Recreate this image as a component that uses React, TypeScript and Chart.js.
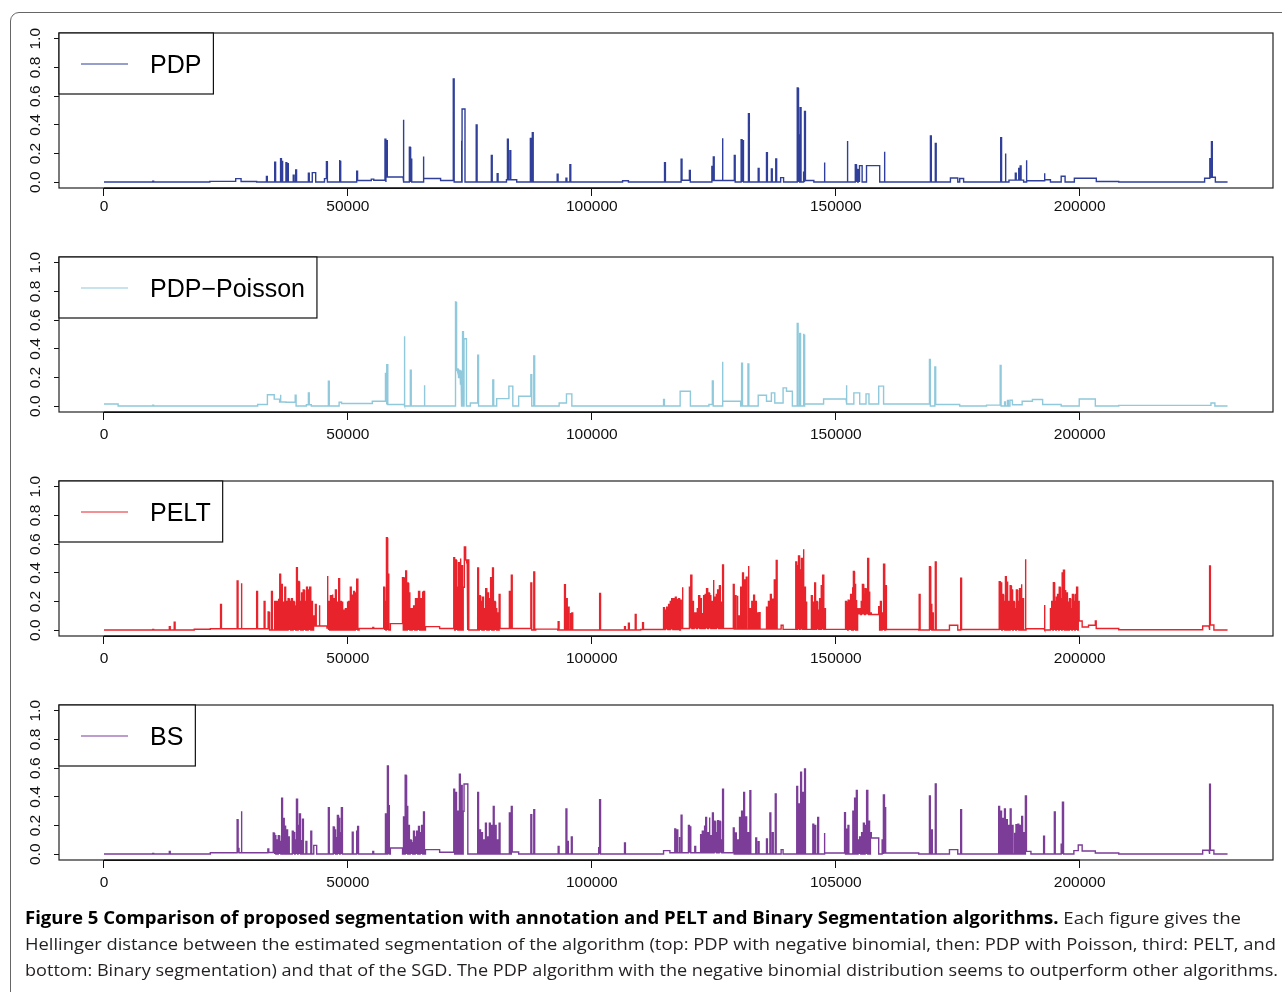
import React, { useEffect, useLayoutEffect, useRef } from "react";
import { Chart, registerables } from "chart.js";

Chart.register(...registerables);

type Level = [number, number, number];
type Spike = [number, number];
type Cluster = [number, number, number[]];

// ---------- axes ----------
const SEQ_END = 230300;
const X_MIN = -9216;
const X_MAX = 239616;
const Y_MIN = -0.04;
const Y_MAX = 1.04;
const X_TICKS = [0, 50000, 100000, 150000, 200000];
const X_LABELS = ["0", "50000", "100000", "150000", "200000"];
const X_LABELS_BS = ["0", "50000", "100000", "105000", "200000"];
const Y_TICKS = [0, 0.2, 0.4, 0.6, 0.8, 1.0];
const Y_LABELS = ["0.0", "0.2", "0.4", "0.6", "0.8", "1.0"];
const BASE_LEVEL = 0.002;
const SPIKE_WIDTH = 180;

// ---------- PDP (negative binomial) ----------
const PDP_LEVELS: Level[] = [
  [21700, 27000, 0.006], [27000, 28100, 0.025], [28100, 31300, 0.005],
  [42700, 43400, 0.067], [45200, 45800, 0.025], [51800, 54800, 0.012],
  [54800, 55300, 0.022], [55300, 57600, 0.014], [57800, 61300, 0.037],
  [65400, 69000, 0.026], [69000, 71600, 0.012], [73400, 74000, 0.51],
  [82500, 84600, 0.018], [106300, 107500, 0.01], [118300, 120000, 0.014],
  [124600, 129200, 0.012], [138700, 139300, 0.032], [143600, 145500, 0.012],
  [154900, 155400, 0.116], [156300, 159000, 0.116], [173500, 175000, 0.03],
  [175400, 176200, 0.026], [185500, 188500, 0.015], [189000, 192700, 0.01],
  [192700, 194000, 0.018], [196200, 197000, 0.042], [198900, 203400, 0.028],
  [203400, 208000, 0.005], [225600, 226600, 0.028], [226600, 227800, 0.035],
];
const PDP_SPIKES: Spike[] = [
  [10000, 0.008], [33300, 0.04], [35000, 0.14], [36200, 0.165], [36500, 0.15],
  [37300, 0.137], [37600, 0.13], [38800, 0.05], [39300, 0.085], [41900, 0.063],
  [45600, 0.144], [48200, 0.155], [48400, 0.15], [51800, 0.077], [57600, 0.3],
  [57900, 0.29], [61300, 0.436], [62600, 0.245], [62900, 0.16], [65400, 0.18],
  [71600, 0.72], [73200, 0.29], [76300, 0.4], [79400, 0.186], [80600, 0.06],
  [82700, 0.3], [83200, 0.22], [87400, 0.306], [87800, 0.346], [92900, 0.056],
  [94700, 0.028], [95500, 0.123], [114900, 0.137], [118300, 0.16], [120000, 0.083],
  [124600, 0.11], [124900, 0.176], [126700, 0.306], [129200, 0.186], [130600, 0.297],
  [130900, 0.29], [132100, 0.478], [134100, 0.097], [135800, 0.206], [136800, 0.093],
  [137700, 0.162], [142100, 0.657], [142400, 0.33], [142700, 0.52], [143400, 0.07],
  [143600, 0.494], [147600, 0.137], [152300, 0.288], [154000, 0.123], [154300, 0.09],
  [154600, 0.087], [156500, 0.06], [156800, 0.05], [159900, 0.213], [169400, 0.322],
  [170400, 0.27], [183800, 0.31], [184700, 0.2], [186800, 0.063], [187500, 0.097],
  [187800, 0.114], [189000, 0.153], [192700, 0.063], [226700, 0.165], [227000, 0.283],
];
const PDP_CLUSTERS: Cluster[] = [];

// ---------- PDP with Poisson ----------
const POIS_LEVELS: Level[] = [
  [0, 2900, 0.016], [31500, 33500, 0.012], [33500, 34900, 0.08], [34900, 36000, 0.05],
  [36000, 37300, 0.03], [37300, 39200, 0.028], [41500, 42500, 0.01], [48200, 48700, 0.028],
  [48700, 55000, 0.019], [55000, 57700, 0.035], [57700, 61500, 0.012], [72000, 73300, 0.05],
  [73800, 74300, 0.47], [75100, 76600, 0.023], [80500, 83000, 0.053], [83000, 83800, 0.14],
  [85000, 87500, 0.07], [93300, 94800, 0.023], [94800, 95900, 0.086], [118100, 120200, 0.105],
  [124000, 124700, 0.012], [126700, 130500, 0.035], [134100, 135800, 0.077], [135800, 136800, 0.035],
  [136800, 137500, 0.093], [137500, 139200, 0.023], [139200, 139900, 0.128], [139900, 141100, 0.105],
  [143500, 147500, 0.016], [147500, 152100, 0.051], [152100, 153700, 0.016], [153700, 154900, 0.093],
  [154900, 156200, 0.016], [156200, 156800, 0.086], [156800, 158800, 0.016], [158800, 159800, 0.14],
  [159800, 169200, 0.016], [170300, 175400, 0.012], [180900, 183700, 0.008], [185700, 186200, 0.042],
  [186200, 188200, 0.01], [188200, 190300, 0.035], [190300, 192400, 0.047], [192400, 196200, 0.012],
  [199900, 203200, 0.051], [208000, 226900, 0.006], [226900, 227700, 0.023],
];
const POIS_SPIKES: Spike[] = [
  [10000, 0.008], [36100, 0.08], [39200, 0.077], [41900, 0.093], [46000, 0.174],
  [57700, 0.228], [58000, 0.29], [61500, 0.488], [62800, 0.251], [65600, 0.147],
  [71980, 0.726], [73500, 0.52], [76600, 0.356], [79700, 0.184], [87500, 0.22],
  [88100, 0.35], [114700, 0.047], [124700, 0.177], [126700, 0.31], [130700, 0.3],
  [132000, 0.295], [142100, 0.577], [142600, 0.507], [143300, 0.505], [143500, 0.5],
  [152100, 0.147], [169200, 0.326], [170300, 0.274], [183700, 0.284], [184600, 0.03],
  [185200, 0.04],
];
const POIS_CLUSTERS: Cluster[] = [
  [72150, 73200, [0.26, 0.25, 0.24, 0.26, 0.2, 0.25, 0.15, 0.22, 0.25]],
];

// ---------- PELT ----------
const PELT_LEVELS: Level[] = [
  [18500, 21800, 0.007], [21800, 34000, 0.01], [43000, 45700, 0.03], [45700, 46000, 0.015],
  [52300, 57500, 0.012], [58700, 61200, 0.046], [65900, 68800, 0.025], [68800, 71700, 0.012],
  [73800, 74400, 0.49], [81000, 87500, 0.012], [88500, 93000, 0.008], [110000, 118000, 0.005],
  [118300, 129000, 0.012], [129000, 138800, 0.008], [138800, 139200, 0.035], [139200, 152000, 0.006],
  [154500, 158800, 0.11], [160200, 167000, 0.005], [173300, 175000, 0.035], [175600, 183500, 0.005],
  [189000, 192700, 0.01], [199700, 200500, 0.065], [200500, 201800, 0.023], [201800, 203200, 0.035],
  [203200, 208000, 0.012], [208000, 225200, 0.004], [225200, 226500, 0.03], [226700, 227500, 0.037],
];
const PELT_SPIKES: Spike[] = [
  [10000, 0.006], [13400, 0.025], [14400, 0.056], [23900, 0.18], [27300, 0.343],
  [28100, 0.327], [31300, 0.27], [32830, 0.2], [33650, 0.128], [34340, 0.27],
  [43330, 0.18], [44080, 0.174], [55100, 0.02], [57340, 0.3], [57600, 0.2],
  [57900, 0.645], [58200, 0.39], [83100, 0.27], [83500, 0.383], [87500, 0.33],
  [88100, 0.406], [93100, 0.06], [101600, 0.257], [106700, 0.025], [107500, 0.05],
  [108900, 0.11], [110400, 0.053], [167100, 0.25], [169200, 0.443], [169500, 0.18],
  [169800, 0.12], [170400, 0.476], [175600, 0.362], [188800, 0.494], [192700, 0.176],
  [203200, 0.065], [226600, 0.448],
];
const PELT_CLUSTERS: Cluster[] = [
  [35000, 42900, [0.2, 0.2, 0.22, 0.39, 0.32, 0.2, 0.3, 0.2, 0.22, 0.2, 0.22, 0.2, 0.17, 0.436, 0.34, 0.2, 0.26, 0.28, 0.2, 0.3, 0.28, 0.3, 0.2, 0.1]],
  [45740, 51860, [0.378, 0.2, 0.24, 0.25, 0.22, 0.28, 0.2, 0.36, 0.2, 0.2, 0.14, 0.15, 0.2, 0.2, 0.3, 0.25, 0.27, 0.26, 0.355]],
  [61170, 65540, [0.367, 0.37, 0.413, 0.33, 0.26, 0.15, 0.15, 0.17, 0.22, 0.22, 0.27, 0.22, 0.27, 0.27]],
  [71700, 74600, [0.506, 0.49, 0.3, 0.47, 0.5, 0.45, 0.3, 0.58, 0.47, 0.49]],
  [76600, 81000, [0.434, 0.24, 0.2, 0.23, 0.15, 0.29, 0.26, 0.22, 0.366, 0.434, 0.2, 0.15, 0.12, 0.25]],
  [94400, 95900, [0.318, 0.22, 0.16, 0.12, 0.12]],
  [114700, 118500, [0.158, 0.14, 0.16, 0.18, 0.2, 0.22, 0.22, 0.23, 0.22, 0.22, 0.21, 0.3]],
  [120000, 126800, [0.3, 0.383, 0.2, 0.12, 0.12, 0.15, 0.24, 0.22, 0.12, 0.24, 0.25, 0.29, 0.26, 0.24, 0.2, 0.35, 0.23, 0.25, 0.28, 0.31, 0.2, 0.455]],
  [129000, 134300, [0.32, 0.24, 0.24, 0.1, 0.3, 0.4, 0.35, 0.37, 0.448, 0.15, 0.2, 0.244, 0.2, 0.12, 0.123]],
  [135800, 137800, [0.16, 0.2, 0.25, 0.216, 0.35, 0.487]],
  [141800, 143900, [0.476, 0.45, 0.517, 0.42, 0.5, 0.564, 0.3, 0.2]],
  [145000, 147700, [0.24, 0.2, 0.33, 0.2, 0.14, 0.22, 0.31, 0.383, 0.15]],
  [152000, 157100, [0.2, 0.19, 0.21, 0.2, 0.25, 0.3, 0.41, 0.32, 0.21, 0.15, 0.12, 0.15, 0.2, 0.32, 0.25, 0.29, 0.2, 0.5, 0.27, 0.12]],
  [158800, 160200, [0.165, 0.2, 0.12, 0.46, 0.31]],
  [183500, 188300, [0.339, 0.33, 0.25, 0.2, 0.374, 0.34, 0.2, 0.31, 0.28, 0.2, 0.15, 0.28, 0.2, 0.29, 0.32, 0.22]],
  [194000, 199700, [0.15, 0.2, 0.332, 0.2, 0.23, 0.25, 0.3, 0.22, 0.4, 0.418, 0.28, 0.26, 0.2, 0.22, 0.15, 0.25, 0.2, 0.25, 0.3, 0.2]],
];

// ---------- Binary Segmentation ----------
const BS_LEVELS: Level[] = [
  [21800, 33600, 0.01], [33600, 34700, 0.012], [43000, 43600, 0.062], [58700, 61200, 0.044],
  [65900, 68800, 0.032], [68800, 71700, 0.014], [73800, 74400, 0.49], [83500, 85000, 0.016],
  [114700, 116000, 0.025], [116000, 129000, 0.01], [138800, 139200, 0.032], [147700, 151800, 0.009],
  [157100, 158800, 0.113], [159800, 167000, 0.009], [173300, 175000, 0.032], [188800, 190000, 0.02],
  [198800, 199700, 0.025], [199700, 200500, 0.065], [200500, 203200, 0.023], [203200, 208000, 0.009],
  [225200, 226500, 0.028], [226700, 227500, 0.028],
];
const BS_SPIKES: Spike[] = [
  [10000, 0.006], [13400, 0.019], [27300, 0.24], [27500, 0.04], [28100, 0.3],
  [31300, 0.01], [33600, 0.037], [41400, 0.09], [42400, 0.16], [46000, 0.324],
  [50900, 0.153], [51800, 0.16], [52000, 0.194], [55100, 0.02], [57700, 0.28],
  [58100, 0.616], [58300, 0.338], [83100, 0.287], [83500, 0.333], [87500, 0.275],
  [88100, 0.31], [93100, 0.055], [94700, 0.315], [95000, 0.09], [95800, 0.12],
  [101400, 0.046], [101600, 0.38], [106700, 0.079], [119800, 0.2], [120100, 0.19],
  [121100, 0.055], [133600, 0.113], [134100, 0.088], [135800, 0.106], [136500, 0.287],
  [137000, 0.15], [137600, 0.42], [145300, 0.21], [145700, 0.2], [146300, 0.257],
  [147600, 0.148], [151800, 0.29], [152100, 0.18], [152500, 0.2], [159500, 0.1],
  [159800, 0.414], [160100, 0.33], [169200, 0.407], [169600, 0.17], [170400, 0.49],
  [175600, 0.31], [192600, 0.125], [194800, 0.294], [196200, 0.07], [196500, 0.363],
  [226600, 0.488],
];
const BS_CLUSTERS: Cluster[] = [
  [34700, 37800, [0.148, 0.13, 0.1, 0.13, 0.09, 0.39, 0.25, 0.2, 0.17, 0.12]],
  [38600, 40700, [0.16, 0.15, 0.1, 0.384, 0.2, 0.28, 0.1, 0.245]],
  [47000, 48700, [0.19, 0.17, 0.12, 0.27, 0.25, 0.15, 0.324]],
  [61400, 65500, [0.26, 0.55, 0.333, 0.2, 0.1, 0.08, 0.16, 0.12, 0.16, 0.194, 0.15, 0.2, 0.294]],
  [71700, 74400, [0.454, 0.43, 0.3, 0.558, 0.48, 0.3, 0.485, 0.49]],
  [76600, 81000, [0.43, 0.17, 0.15, 0.1, 0.217, 0.12, 0.217, 0.2, 0.333, 0.2, 0.1, 0.217]],
  [117000, 118300, [0.176, 0.17, 0.12, 0.273]],
  [122300, 126800, [0.137, 0.16, 0.2, 0.257, 0.15, 0.257, 0.13, 0.287, 0.23, 0.15, 0.234, 0.23, 0.1, 0.454]],
  [129000, 132400, [0.183, 0.148, 0.1, 0.257, 0.3, 0.43, 0.26, 0.15, 0.442]],
  [142000, 143600, [0.472, 0.35, 0.572, 0.43, 0.595]],
  [153500, 157100, [0.3, 0.39, 0.444, 0.1, 0.12, 0.15, 0.217, 0.2, 0.444, 0.23, 0.15]],
  [183400, 188900, [0.333, 0.3, 0.25, 0.315, 0.24, 0.2, 0.315, 0.2, 0.15, 0.206, 0.21, 0.2, 0.264, 0.15, 0.407]],
];

// ---------- captions ----------
const CAPTION_BOLD = "Figure 5 Comparison of proposed segmentation with annotation and PELT and Binary Segmentation algorithms.";
const CAPTION_1 = " Each figure gives the";
const CAPTION_2 = "Hellinger distance between the estimated segmentation of the algorithm (top: PDP with negative binomial, then: PDP with Poisson, third: PELT, and";
const CAPTION_3 = "bottom: Binary segmentation) and that of the SGD. The PDP algorithm with the negative binomial distribution seems to outperform other algorithms.";

const AXIS_FONT = "'Liberation Sans', Arial, Helvetica, sans-serif";

function buildSeries(levels: Level[], spikes: Spike[], clusters: Cluster[]) {
  const marks: Spike[] = spikes.slice();
  for (const [s, e, hs] of clusters) {
    const step = hs.length > 1 ? (e - s) / (hs.length - 1) : 0;
    hs.forEach((h, i) => marks.push([s + i * step, h]));
  }
  const bg = (x: number) => {
    let v = BASE_LEVEL;
    for (const [a, b, l] of levels) if (x >= a && x < b) v = l;
    return v;
  };
  const xs = new Set<number>([0, SEQ_END]);
  levels.forEach(([a, b]) => { xs.add(a); xs.add(b); });
  marks.forEach(([p]) => { xs.add(p); xs.add(p + SPIKE_WIDTH); });
  const sorted = [...xs].filter((x) => x >= 0 && x <= SEQ_END).sort((a, b) => a - b);
  const pts: { x: number; y: number }[] = [];
  for (let i = 0; i < sorted.length - 1; i++) {
    const a = sorted[i];
    const b = sorted[i + 1];
    let v = bg(a);
    for (const [p, h] of marks) if (a >= p && a < p + SPIKE_WIDTH) v = Math.max(v, h);
    pts.push({ x: a, y: v }, { x: b, y: v });
  }
  return pts;
}

type PanelProps = {
  top: number;
  title: string;
  color: string;
  levels: Level[];
  spikes: Spike[];
  clusters: Cluster[];
  xLabels: string[];
  labelPad: number;
};

const PLOT_H = 155;
const PAD_TOP = 30;
const X_AXIS_H = 45;

function Panel({ top, title, color, levels, spikes, clusters, xLabels, labelPad }: PanelProps) {
  const ref = useRef<HTMLCanvasElement>(null);
  useEffect(() => {
    const pts = buildSeries(levels, spikes, clusters);
    const framePlugin = {
      id: "rframe",
      afterDraw(chart: any) {
        const { ctx, chartArea: a, scales } = chart;
        ctx.save();
        // plot box
        ctx.strokeStyle = "#222";
        ctx.lineWidth = 1.2;
        ctx.strokeRect(a.left, a.top, a.right - a.left, a.bottom - a.top);
        // x axis line from first to last tick
        const x0 = scales.x.getPixelForValue(X_TICKS[0]);
        const x1 = scales.x.getPixelForValue(X_TICKS[X_TICKS.length - 1]);
        ctx.strokeStyle = "#111";
        ctx.lineWidth = 1.6;
        ctx.beginPath();
        ctx.moveTo(x0, a.bottom + 0.3);
        ctx.lineTo(x1, a.bottom + 0.3);
        ctx.stroke();
        // legend
        ctx.font = `25px ${AXIS_FONT}`;
        const tw = ctx.measureText(title).width;
        const lw = 91 + tw + 12;
        const lh = 61;
        ctx.fillStyle = "#fff";
        ctx.fillRect(a.left, a.top, lw, lh);
        ctx.lineWidth = 1.2;
        ctx.strokeStyle = "#111";
        ctx.strokeRect(a.left, a.top, lw, lh);
        ctx.strokeStyle = color;
        ctx.lineWidth = 1.2;
        ctx.beginPath();
        ctx.moveTo(a.left + 22, a.top + 31);
        ctx.lineTo(a.left + 69, a.top + 31);
        ctx.stroke();
        ctx.fillStyle = "#000";
        ctx.textBaseline = "middle";
        ctx.textAlign = "left";
        ctx.fillText(title, a.left + 91, a.top + 33);
        ctx.restore();
      },
    };
    const chart = new Chart(ref.current!, {
      type: "line",
      data: {
        datasets: [
          {
            label: title,
            data: pts,
            borderColor: color,
            borderWidth: 1.4,
            pointRadius: 0,
            fill: false,
            tension: 0,
          },
        ],
      },
      options: {
        animation: false,
        responsive: false,
        events: [],
        parsing: false,
        layout: { padding: { top: PAD_TOP, right: 9, left: 0, bottom: 0 } },
        plugins: { legend: { display: false }, tooltip: { enabled: false } },
        scales: {
          x: {
            type: "linear",
            min: X_MIN,
            max: X_MAX,
            afterBuildTicks: (s: any) => { s.ticks = X_TICKS.map((v) => ({ value: v })); },
            afterFit: (s: any) => { s.height = X_AXIS_H; },
            grid: { drawOnChartArea: false, drawTicks: true, tickLength: 8, color: "#111", lineWidth: 1 },
            border: { display: false },
            ticks: {
              autoSkip: false,
              maxRotation: 0,
              minRotation: 0,
              padding: labelPad,
              color: "#111",
              font: { family: AXIS_FONT, size: 15.5 },
              callback: (_v: any, i: number) => xLabels[i],
            },
          },
          y: {
            type: "linear",
            min: Y_MIN,
            max: Y_MAX,
            afterBuildTicks: (s: any) => { s.ticks = Y_TICKS.map((v) => ({ value: v })); },
            afterFit: (s: any) => { s.width = 59; },
            grid: { drawOnChartArea: false, drawTicks: true, tickLength: 5, color: "#111", lineWidth: 1 },
            border: { display: false },
            ticks: {
              autoSkip: false,
              minRotation: 90,
              maxRotation: 90,
              crossAlign: "center",
              padding: 7.5,
              color: "#111",
              font: { family: AXIS_FONT, size: 15.5 },
              callback: (_v: any, i: number) => Y_LABELS[i],
            },
          },
        },
      } as any,
      plugins: [framePlugin],
    });
    return () => chart.destroy();
  }, []);
  const h = PAD_TOP + PLOT_H + X_AXIS_H;
  return (
    <canvas
      ref={ref}
      width={1282}
      height={h}
      style={{ position: "absolute", left: 0, top: top - PAD_TOP, width: 1282, height: h }}
    />
  );
}

function CaptionLine({ top, target, children }: { top: number; target: number; children: React.ReactNode }) {
  const ref = useRef<HTMLDivElement>(null);
  useLayoutEffect(() => {
    const el = ref.current!;
    el.style.transform = "none";
    const w = el.getBoundingClientRect().width;
    if (w > 0) el.style.transform = `scaleX(${target / w})`;
  }, []);
  return (
    <div
      ref={ref}
      style={{
        position: "absolute",
        left: 25,
        top,
        whiteSpace: "nowrap",
        transformOrigin: "0 0",
        fontFamily: "'Open Sans', 'Noto Sans', sans-serif",
        fontSize: 17,
        lineHeight: "26px",
        color: "#231f20",
        display: "inline-block",
      }}
    >
      {children}
    </div>
  );
}

export default function App() {
  return (
    <div
      style={{
        position: "absolute",
        left: 0,
        top: 0,
        width: 1282,
        height: 992,
        overflow: "hidden",
        background: "#fff",
      }}
    >
      <div
        style={{
          position: "absolute",
          left: 10,
          top: 12,
          width: 1300,
          height: 1010,
          border: "1px solid #666",
          borderRadius: 9,
          boxSizing: "border-box",
        }}
      />
      <Panel top={33} title="PDP" color="#2f3f9a" levels={PDP_LEVELS} spikes={PDP_SPIKES} clusters={PDP_CLUSTERS} xLabels={X_LABELS} labelPad={1} />
      <Panel top={257} title="PDP−Poisson" color="#8fc9db" levels={POIS_LEVELS} spikes={POIS_SPIKES} clusters={POIS_CLUSTERS} xLabels={X_LABELS} labelPad={5} />
      <Panel top={481} title="PELT" color="#e8232b" levels={PELT_LEVELS} spikes={PELT_SPIKES} clusters={PELT_CLUSTERS} xLabels={X_LABELS} labelPad={5} />
      <Panel top={705} title="BS" color="#7b3d98" levels={BS_LEVELS} spikes={BS_SPIKES} clusters={BS_CLUSTERS} xLabels={X_LABELS_BS} labelPad={5} />
      <CaptionLine top={905} target={1216}>
        <b style={{ color: "#000" }}>{CAPTION_BOLD}</b>
        {CAPTION_1}
      </CaptionLine>
      <CaptionLine top={931} target={1251}>{CAPTION_2}</CaptionLine>
      <CaptionLine top={957} target={1253}>{CAPTION_3}</CaptionLine>
    </div>
  );
}
